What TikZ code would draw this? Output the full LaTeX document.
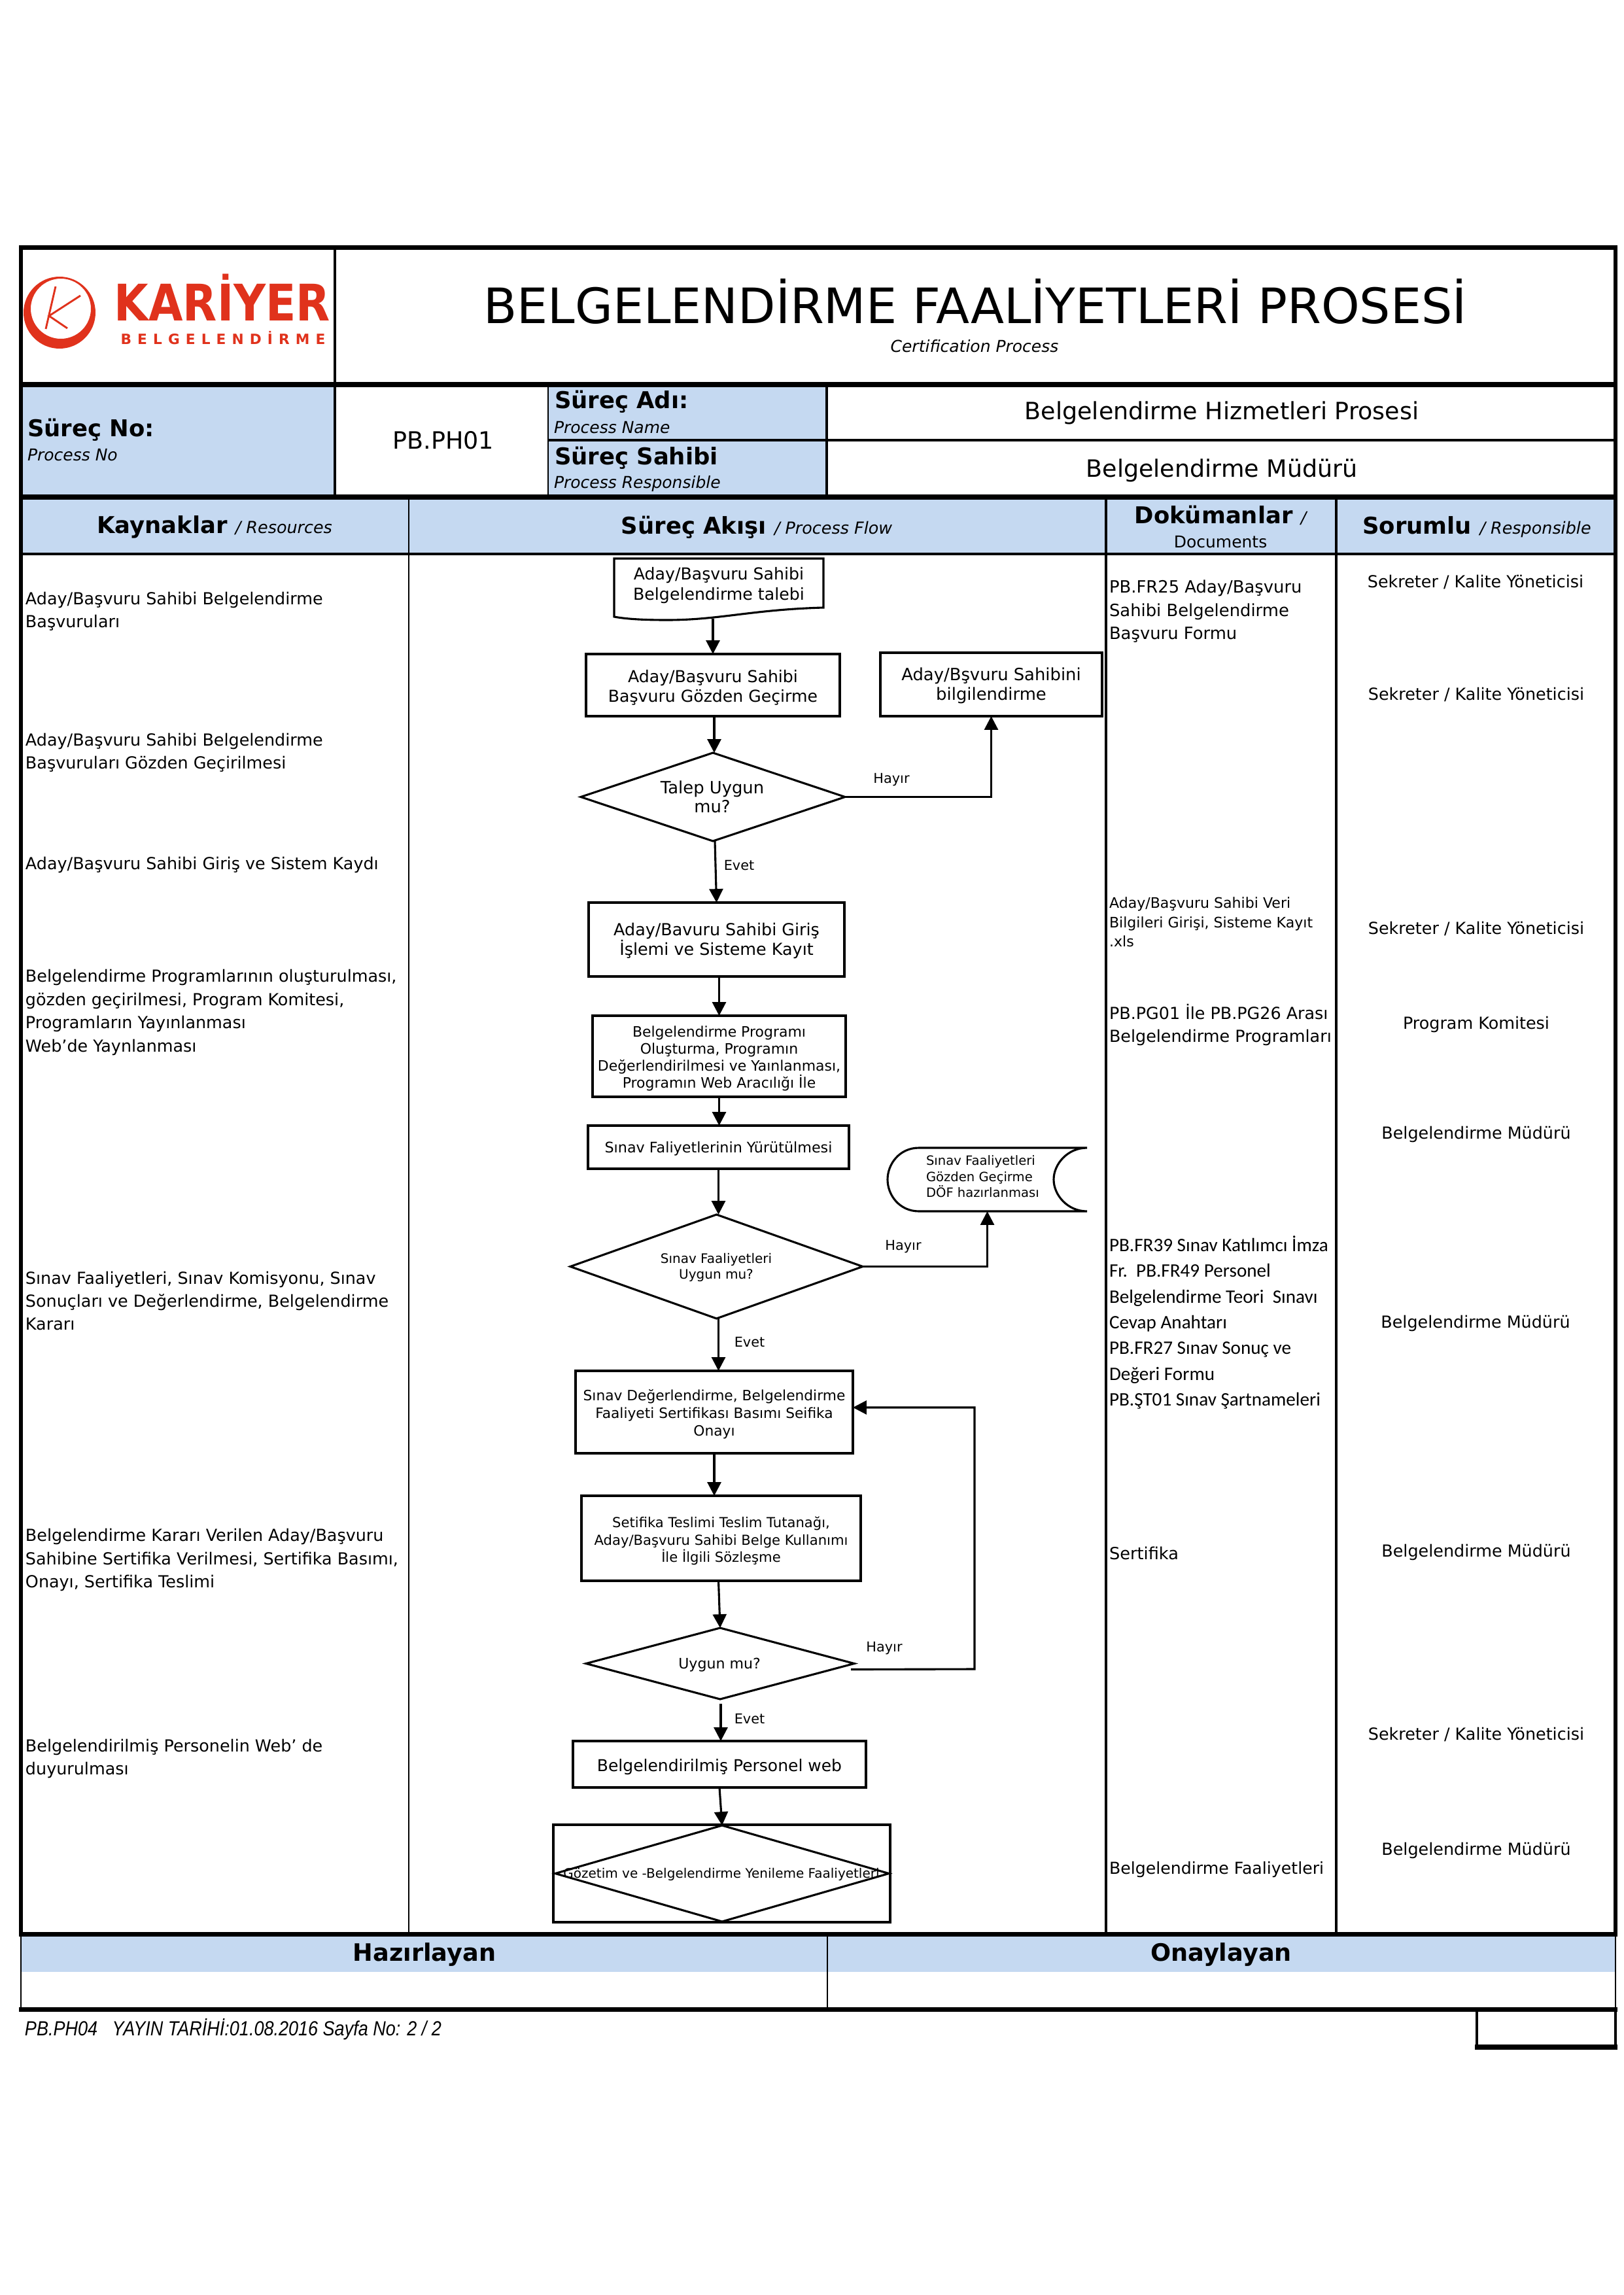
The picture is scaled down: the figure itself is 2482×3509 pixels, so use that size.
\documentclass[tikz,border=0pt]{standalone}
\usepackage{fontspec}
\usepackage{graphicx}
\setmainfont{DejaVu Sans}
\newfontfamily\calib{Carlito}
\newfontfamily\arialf{Liberation Sans}
\usetikzlibrary{arrows.meta,shapes.geometric,calc}
\definecolor{hblue}{RGB}{197,217,241}
\definecolor{lred}{RGB}{224,50,28}
\newcommand{\fsz}[2]{\fontsize{#1}{#2}\selectfont}
\tikzset{
  thickrule/.style={line width=1.7pt},
  midrule/.style={line width=.75pt},
  thinrule/.style={line width=.55pt},
  pbox/.style={draw,line width=.75pt,inner sep=0pt,outer sep=0pt,align=center},
  pdia/.style={draw,diamond,line width=.75pt,inner sep=0pt,outer sep=0pt},
  phantomshape/.style={inner sep=0pt,outer sep=0pt},
  arr/.style={line width=.75pt,-{Triangle[length=5pt,width=5pt]}},
  plain/.style={line width=.75pt},
  txt/.style={inner sep=0pt,outer sep=0pt,align=center},
  ltxt/.style={inner sep=0pt,outer sep=0pt,align=left,anchor=west},
  leftcol/.style={ltxt,font=\fsz{6.1}{8.5}},
  rightcol/.style={txt,font=\fsz{6.1}{8}},
  tag/.style={txt,font=\fsz{5}{6}},
}
% name, x1, y1, x2, y2, text font, text y-shift, text
\newcommand{\FlowBox}[8]{\node[pbox,minimum width={(#4-#2)*0.24pt},minimum height={(#5-#3)*0.24pt}] (#1) at ({(#2+#4)/2},{(#3+#5)/2}) {};\node[txt,font=#6] (#1t) at ($(#1)+(0,#7)$) {#8};}
\newcommand{\FlowDia}[5]{\node[pdia,minimum width={(#4-#2)*0.24pt},minimum height={(#5-#3)*0.24pt}] (#1) at ({(#2+#4)/2},{(#3+#5)/2}) {};}
\begin{document}
\begin{tikzpicture}[x=0.24pt,y=-0.24pt]
\useasboundingbox (0,0) rectangle (2482,3509);
% fills
\fill[hblue] (32,587) rectangle (512,760);
\fill[hblue] (838,587) rectangle (1264,760);
\fill[hblue] (32,760) rectangle (2470,847);
\fill[hblue] (32,2957) rectangle (2470,3015);
% table rules
\draw[thickrule] (32,378.5) -- (2470,378.5);
\draw[thickrule] (32,588) -- (2470,588);
\draw[thickrule] (32,760) -- (2470,760);
\draw[line width=.95pt] (32,847) -- (2470,847);
\draw[thickrule] (29,2957.5) -- (2473,2957.5);
\draw[thickrule] (29,3072.5) -- (2473,3072.5);
\draw[line width=1.5pt] (32,375) -- (32,2961);
\draw[line width=1.6pt] (2470,375) -- (2470,2961);
\draw[thinrule] (32,2961) -- (32,3072);
\draw[thinrule] (2470,2961) -- (2470,3072);
\draw[midrule] (512,378) -- (512,760);
\draw[thinrule] (838,588) -- (838,760);
\draw[midrule] (1264,588) -- (1264,760);
\draw[midrule] (838,673) -- (2470,673);
\draw[thinrule] (625,760) -- (625,2957);
\draw[midrule] (1691,760) -- (1691,2957);
\draw[midrule] (2043,760) -- (2043,2957);
\draw[thinrule] (1265,2957) -- (1265,3072);
% page-number box
\draw[midrule] (2258,3072) -- (2258,3130);
\draw[midrule] (2470,3072) -- (2470,3130);
\draw[thickrule] (2255,3130) -- (2473,3130);
% logo
\fill[lred,even odd rule] (91,478) circle (55) (93,472) circle (46);
\draw[lred,line width=.7pt] (85,438) -- (70,503) (123,452) -- (75,483) -- (103,502);
\node[txt,text=lred,font=\bfseries\fsz{18.5}{18.5}] (logotop) at (340,455) {\scalebox{.88}[1]{KARİYER}};
\node[txt,text=lred,font=\bfseries\fsz{5.2}{5.5}\addfontfeature{LetterSpace=42}] (logobot) at (341,517) {BELGELENDİRME};
% header text
\node[txt,font=\fsz{17.9}{20}] (title) at (1491,461) {BELGELENDİRME FAALİYETLERİ PROSESİ};
\node[txt,font=\itshape\fsz{6}{7}] (subtitle) at (1490,529) {Certification Process};
\node[ltxt,font=\bfseries\fsz{8.5}{10}] (noT) at (42,657) {Süreç No:};
\node[ltxt,font=\itshape\fsz{6}{7}] (noS) at (42,696) {Process No};
\node[txt,font=\fsz{8.75}{10}] (noV) at (678,673) {PB.PH01};
\node[ltxt,font=\bfseries\fsz{8.5}{10}] (adT) at (848,614) {Süreç Adı:};
\node[ltxt,font=\itshape\fsz{6}{7}] (adS) at (847,654) {Process Name};
\node[ltxt,font=\bfseries\fsz{8.5}{10}] (saT) at (848,700) {Süreç Sahibi};
\node[ltxt,font=\itshape\fsz{6}{7}] (saS) at (847,740) {Process Responsible};
\node[txt,font=\fsz{8.75}{10}] (adV) at (1868,631) {Belgelendirme Hizmetleri Prosesi};
\node[txt,font=\fsz{8.75}{10}] (saV) at (1868,719) {Belgelendirme Müdürü};
\node[txt] (hKay) at (328,806) {\fsz{8.5}{10}\bfseries Kaynaklar \mdseries\itshape\fsz{6.1}{7}/ Resources};
\node[txt] (hSur) at (1157,806) {\fsz{8.5}{10}\bfseries Süreç Akışı \mdseries\itshape\fsz{6.1}{7}/ Process Flow};
\node[txt] (hDok) at (1866,788) {\fsz{8.5}{10}\bfseries Dokümanlar \mdseries\itshape\fsz{6}{7}/};
\node[txt,font=\fsz{6}{7}] (hDok2) at (1866,829) {Documents};
\node[txt] (hSor) at (2258,806) {\fsz{8.5}{10}\bfseries Sorumlu \mdseries\itshape\fsz{6.1}{7}/ Responsible};
% left column
\node[leftcol] (l1) at (39,935) {Aday/Başvuru Sahibi Belgelendirme\\Başvuruları};
\node[leftcol] (l2) at (39,1151) {Aday/Başvuru Sahibi Belgelendirme\\Başvuruları Gözden Geçirilmesi};
\node[leftcol] (l3) at (39,1322) {Aday/Başvuru Sahibi Giriş ve Sistem Kaydı};
\node[leftcol] (l4) at (39,1548) {Belgelendirme Programlarının oluşturulması,\\gözden geçirilmesi, Program Komitesi,\\Programların Yayınlanması\\Web'de Yaynlanması};
\node[leftcol] (l5) at (39,1989) {Sınav Faaliyetleri, Sınav Komisyonu, Sınav\\Sonuçları ve Değerlendirme, Belgelendirme\\Kararı};
\node[leftcol] (l6) at (39,2385) {Belgelendirme Kararı Verilen Aday/Başvuru\\Sahibine Sertifika Verilmesi, Sertifika Basımı,\\Onayı, Sertifika Teslimi};
\node[leftcol] (l7) at (39,2689) {Belgelendirilmiş Personelin Web' de\\duyurulması};
% documents column
\node[ltxt,font=\fsz{6.2}{8.5}] (d1t) at (1696,935) {PB.FR25 Aday/Başvuru\\Sahibi Belgelendirme\\Başvuru Formu};
\node[ltxt,font=\fsz{5.3}{7.05}] (d2t) at (1696,1410) {Aday/Başvuru Sahibi Veri\\Bilgileri Girişi, Sisteme Kayıt\\.xls};
\node[ltxt,font=\fsz{6.1}{8.6}] (d3t) at (1696,1567) {PB.PG01 İle PB.PG26 Arası\\Belgelendirme Programları};
\node[ltxt,font=\calib\fsz{7}{9.43}] (d4t) at (1696,2022) {PB.FR39 Sınav Katılımcı İmza\\Fr.\ \ PB.FR49 Personel\\Belgelendirme Teori\ \ Sınavı\\Cevap Anahtarı\\PB.FR27 Sınav Sonuç ve\\Değeri Formu\\PB.ŞT01 Sınav Şartnameleri};
\node[ltxt,font=\fsz{6.15}{8}] (d5t) at (1696,2375) {Sertifika};
\node[ltxt,font=\fsz{6.05}{8}] (d6t) at (1696,2859) {Belgelendirme Faaliyetleri};
% responsible column
\node[rightcol] (r1) at (2256,890) {Sekreter / Kalite Yöneticisi};
\node[rightcol] (r2) at (2257,1062) {Sekreter / Kalite Yöneticisi};
\node[rightcol] (r3) at (2257,1420) {Sekreter / Kalite Yöneticisi};
\node[rightcol] (r4) at (2257,1566) {Program Komitesi};
\node[rightcol] (r5) at (2257,1734) {Belgelendirme Müdürü};
\node[rightcol] (r6) at (2256,2023) {Belgelendirme Müdürü};
\node[rightcol] (r7) at (2257,2373) {Belgelendirme Müdürü};
\node[rightcol] (r8) at (2257,2652) {Sekreter / Kalite Yöneticisi};
\node[rightcol] (r9) at (2257,2829) {Belgelendirme Müdürü};
% footer
\node[txt,font=\bfseries\fsz{8.8}{10}] (fH) at (649,2988) {Hazırlayan};
\node[txt,font=\bfseries\fsz{8.8}{10}] (fO) at (1867,2988) {Onaylayan};
\node[ltxt,font=\arialf\itshape\fsz{7.5}{8}] (ft) at (38,3103) {\scalebox{.865}[1]{PB.PH04\ \ \ YAYIN TARİHİ:01.08.2016 Sayfa No: 2 / 2}};
% flow shapes
\node[phantomshape,minimum width={320*0.24pt},minimum height={93*0.24pt}] (doc) at (1099,900.5) {};
\draw[plain,line join=miter] (doc.north west) -- (doc.north east) -- (1259,929) .. controls (1150,932) and (1100,948) .. (1020,948) .. controls (990,948) and (960,947) .. (939,943) -- cycle;
\node[txt,font=\fsz{6.05}{7.4}] (doct) at (1099,895) {Aday/Başvuru Sahibi\\Belgelendirme talebi};
\FlowBox{b2}{896}{1000}{1284}{1095}{\fsz{6.04}{7.2}}{4}{Aday/Başvuru Sahibi\\Başvuru Gözden Geçirme}
\FlowBox{b3}{1346}{998}{1685}{1095}{\fsz{6.2}{7.2}}{2}{Aday/Bşvuru Sahibini\\bilgilendirme}
\FlowDia{d1}{888}{1151}{1292}{1286}
\node[txt,font=\fsz{6.2}{7}] (d1tx) at (1089,1218) {Talep Uygun\\mu?};
\FlowBox{b4}{900}{1380}{1291}{1493}{\fsz{6.1}{7.2}}{2}{Aday/Bavuru Sahibi Giriş\\İşlemi ve Sisteme Kayıt}
\FlowBox{b5}{906}{1553}{1293}{1677}{\fsz{5.27}{6.25}}{3}{Belgelendirme Programı\\Oluşturma, Programın\\Değerlendirilmesi ve Yaınlanması,\\Programın Web Aracılığı İle}
\FlowBox{b6}{899}{1721}{1298}{1787}{\fsz{5.34}{6}}{2}{Sınav Faliyetlerinin Yürütülmesi}
\FlowDia{d2}{872}{1857}{1319}{2016}
\node[txt,font=\fsz{4.8}{5.8}] (d2tx) at (1095,1938) {Sınav Faaliyetleri\\Uygun mu?};
\node[phantomshape,minimum width={305*0.24pt},minimum height={97*0.24pt}] (sd) at (1509.5,1803.5) {};
\draw[plain] (1662,1755) -- (1405,1755) .. controls (1375,1755) and (1357,1780) .. (1357,1803.5) .. controls (1357,1827) and (1375,1852) .. (1405,1852) -- (1662,1852)
  .. controls (1632,1852) and (1611,1827) .. (1611,1803.5) .. controls (1611,1780) and (1632,1755) .. (1662,1755);
\node[ltxt,font=\fsz{4.7}{5.9}] (sdt) at (1416,1799) {Sınav Faaliyetleri\\Gözden Geçirme\\DÖF hazırlanması};
\FlowBox{b7}{880}{2096}{1304}{2222}{\fsz{5.22}{6.5}}{3}{Sınav Değerlendirme, Belgelendirme\\Faaliyeti Sertifikası Basımı Seifika\\Onayı}
\FlowBox{b8}{889}{2287}{1316}{2417}{\fsz{5.07}{6.4}}{4}{Setifika Teslimi Teslim Tutanağı,\\Aday/Başvuru Sahibi Belge Kullanımı\\İle İlgili Sözleşme}
\FlowDia{d3}{896}{2489}{1306}{2598}
\node[txt,font=\fsz{5.3}{6}] (d3tx) at (1100,2546) {Uygun mu?};
\FlowBox{b9}{876}{2662}{1324}{2733}{\fsz{6}{7}}{4}{Belgelendirilmiş Personel web}
\FlowBox{r10}{846}{2790}{1361}{2939}{\fsz{5}{6}}{0}{}
\FlowDia{d4}{849}{2791}{1359}{2938}
\node[txt,font=\fsz{4.8}{6}] (d4tx) at (1103,2866) {Gözetim ve -Belgelendirme Yenileme Faaliyetleri};
% connector labels
\node[tag] (h1) at (1363,1192) {Hayır};
\node[tag] (e1) at (1130,1323) {Evet};
\node[tag] (h2) at (1381,1906) {Hayır};
\node[tag] (e2) at (1146,2052) {Evet};
\node[tag] (h3) at (1352,2520) {Hayır};
\node[tag] (e3) at (1146,2628) {Evet};
% connectors
\coordinate (loopA) at (1490,2552);
\coordinate (loopB) at (1490,2152);
\draw[arr] (b2.north |- doc.south) ++(0,-1) -- (b2.north);
\draw[arr] ($(b2.south)+(2,0)$) -- ($(b2.south |- d1.north)+(2,0)$);
\draw[arr] (d1.east) -| (b3.south);
\draw[arr] ($(d1.south)+(3,0)$) -- (b4.north);
\draw[arr] (b5.north |- b4.south) -- (b5.north);
\draw[arr] (b5.south) -- (b5.south |- b6.north);
\draw[arr] (b6.south) -- (b6.south |- d2.north);
\draw[arr] (d2.east) -| (sd.south);
\draw[arr] ($(d2.south)+(3,0)$) -- ($(d2.south |- b7.north)+(3,0)$);
\draw[arr] (b7.south) -- (b7.south |- b8.north);
\draw[arr] ($(b8.south)+(-4,0)$) -- (d3.north);
\draw[arr] ($(d3.east)+(-5,9)$) -- (loopA) -- (loopB) -- (b7.east |- loopB);
\draw[arr] ($(d3.south)+(1,7)$) -- ($(d3.south |- b9.north)+(1,0)$);
\draw[arr] (b9.south) -- (d4.north);
\end{tikzpicture}
\end{document}
